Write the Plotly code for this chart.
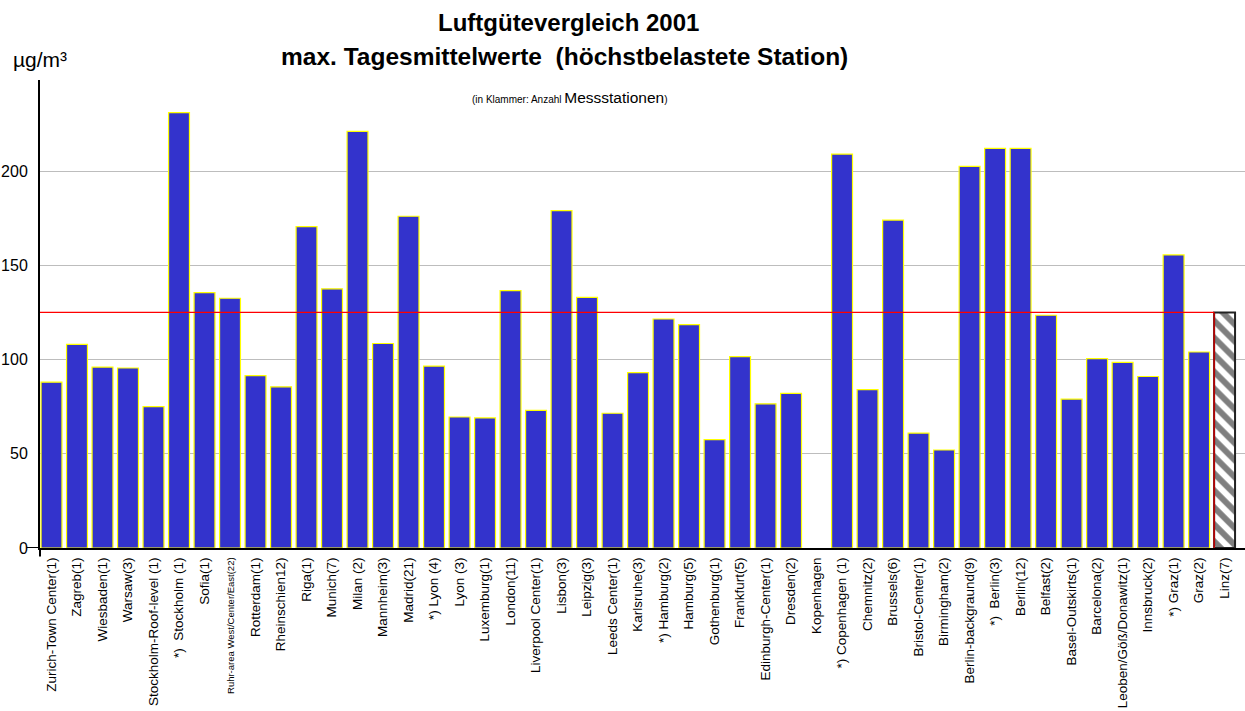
import plotly.graph_objects as go

categories = [
    "Zurich-Town Center(1)", "Zagreb(1)", "Wiesbaden(1)", "Warsaw(3)",
    "Stockholm-Roof-level (1)", "*)  Stockholm (1)", "Sofia(1)",
    "Ruhr-area West/Center/East(22)", "Rotterdam(1)", "Rheinschien12)",
    "Riga(1)", "Munich(7)", "Milan (2)", "Mannheim(3)", "Madrid(21)",
    "*) Lyon (4)", "Lyon (3)", "Luxemburg(1)", "London(11)",
    "Liverpool Center(1)", "Lisbon(3)", "Leipzig(3)", "Leeds Center(1)",
    "Karlsruhe(3)", "*) Hamburg(2)", "Hamburg(5)", "Gothenburg(1)",
    "Frankfurt(5)", "Edinburgh-Center(1)", "Dresden(2)", "Kopenhagen",
    "*) Copenhagen (1)", "Chemnitz(2)", "Brussels(6)", "Bristol-Center(1)",
    "Birmingham(2)", "Berlin-backgraund(9)", "*)  Berlin(3)", "Berlin(12)",
    "Belfast(2)", "Basel-Outskirts(1)", "Barcelona(2)",
    "Leoben/Göß/Donawitz(1)", "Innsbruck(2)", "*) Graz(1)", "Graz(2)",
    "Linz(7)",
]

values = [
    88, 108, 96, 95.5, 75, 231, 135.5, 132.5, 91.5, 85.5,
    170.5, 137.5, 221, 108.5, 176, 96.5, 69.5, 69, 136.5, 73,
    179, 133, 71.5, 93, 121.5, 118.5, 57.5, 101.5, 76.5, 82,
    None, 209, 84, 174, 61, 52, 202.5, 212, 212, 123.5,
    79, 100.5, 98.5, 91, 155.5, 104, 125,
]

limit_value = 125
y_ticks = [0, 50, 100, 150, 200]
small_label = "Ruhr-area West/Center/East(22)"

x_idx = list(range(len(categories)))
main_x, main_y = x_idx[:-1], values[:-1]
linz_x, linz_y = x_idx[-1:], values[-1:]

ticktext = [
    f'<span style="font-size:9.5px">{c}</span>' if c == small_label else c
    for c in categories
]

X0, X1 = -0.451, 46.8
PL, PT, PH, PW = 40, 80, 468, 1205

fig = go.Figure()
fig.add_trace(go.Bar(
    x=main_x, y=main_y, width=0.82,
    marker=dict(color="#3333CC", line=dict(color="#FFFF00", width=1.2)),
    showlegend=False, hoverinfo="skip",
))
fig.add_trace(go.Bar(
    x=linz_x, y=linz_y, width=0.82,
    marker=dict(
        color="white",
        line=dict(color="#222222", width=2),
        pattern=dict(shape="\\", fgcolor="black", bgcolor="white",
                     size=12, solidity=0.5),
    ),
    showlegend=False, hoverinfo="skip",
))

last = x_idx[-1]
fig.add_shape(type="line", xref="paper", yref="y", x0=0,
              x1=(last - 0.41 - X0) / (X1 - X0),
              y0=limit_value, y1=limit_value, line=dict(color="#FF0000", width=1.2))
fig.add_shape(type="line", xref="x", yref="y", x0=last - 0.41, x1=last - 0.41,
              y0=0, y1=limit_value, line=dict(color="#CC0000", width=1.5))
fig.add_shape(type="line", xref="paper", yref="y", x0=-0.011, x1=0, y0=0, y1=0,
              line=dict(color="black", width=2))
fig.add_shape(type="line", xref="paper", yref="paper", x0=0, x1=0, y0=-0.018, y1=0,
              line=dict(color="black", width=2))


def px(x):
    return (x - PL) / PW


def py(y):
    return 1 - (y - PT) / PH


fig.update_layout(
    width=1245, height=711,
    margin=dict(l=PL, r=1245 - PL - PW, t=PT, b=711 - PT - PH, autoexpand=False),
    paper_bgcolor="white", plot_bgcolor="white",
    barmode="overlay",
    font=dict(family="Liberation Sans, Arial, sans-serif", color="black"),
    xaxis=dict(
        range=[X0, X1], tickmode="array", tickvals=x_idx, ticktext=ticktext,
        tickangle=-90, tickfont=dict(size=13.5), showgrid=False, ticks="",
        showline=True, linecolor="black", linewidth=2, zeroline=False,
        ticklabelstandoff=2, automargin=False,
    ),
    yaxis=dict(
        range=[0, 248.3], tickmode="array", tickvals=y_ticks,
        tickfont=dict(size=16), showgrid=True, gridcolor="#BDBDBD", gridwidth=1,
        showline=True, linecolor="black", linewidth=2, zeroline=False, ticks="",
        ticklabelstandoff=7, automargin=False,
    ),
    annotations=[
        dict(text="<b>Luftgütevergleich 2001</b>", xref="paper", yref="paper",
             x=px(568), y=py(22), xanchor="center", yanchor="middle",
             showarrow=False, font=dict(size=24)),
        dict(text="<b>max. Tagesmittelwerte  (höchstbelastete Station)</b>", xref="paper",
             yref="paper", x=px(564), y=py(57), xanchor="center",
             yanchor="middle", showarrow=False, font=dict(size=24.5)),
        dict(text="µg/m³", xref="paper", yref="paper", x=px(11),
             y=py(60), xanchor="left", yanchor="middle", showarrow=False,
             font=dict(size=21)),
        dict(text='(in Klammer: Anzahl <span style="font-size:15.5px">Messstationen</span>)',
             xref="paper", yref="paper", x=px(570), y=py(97),
             xanchor="center", yanchor="middle", showarrow=False, font=dict(size=10)),
    ],
)

fig.write_html("out.html", config={"displayModeBar": False},
               post_script="document.body.style.margin='0';document.body.style.padding='0';")
